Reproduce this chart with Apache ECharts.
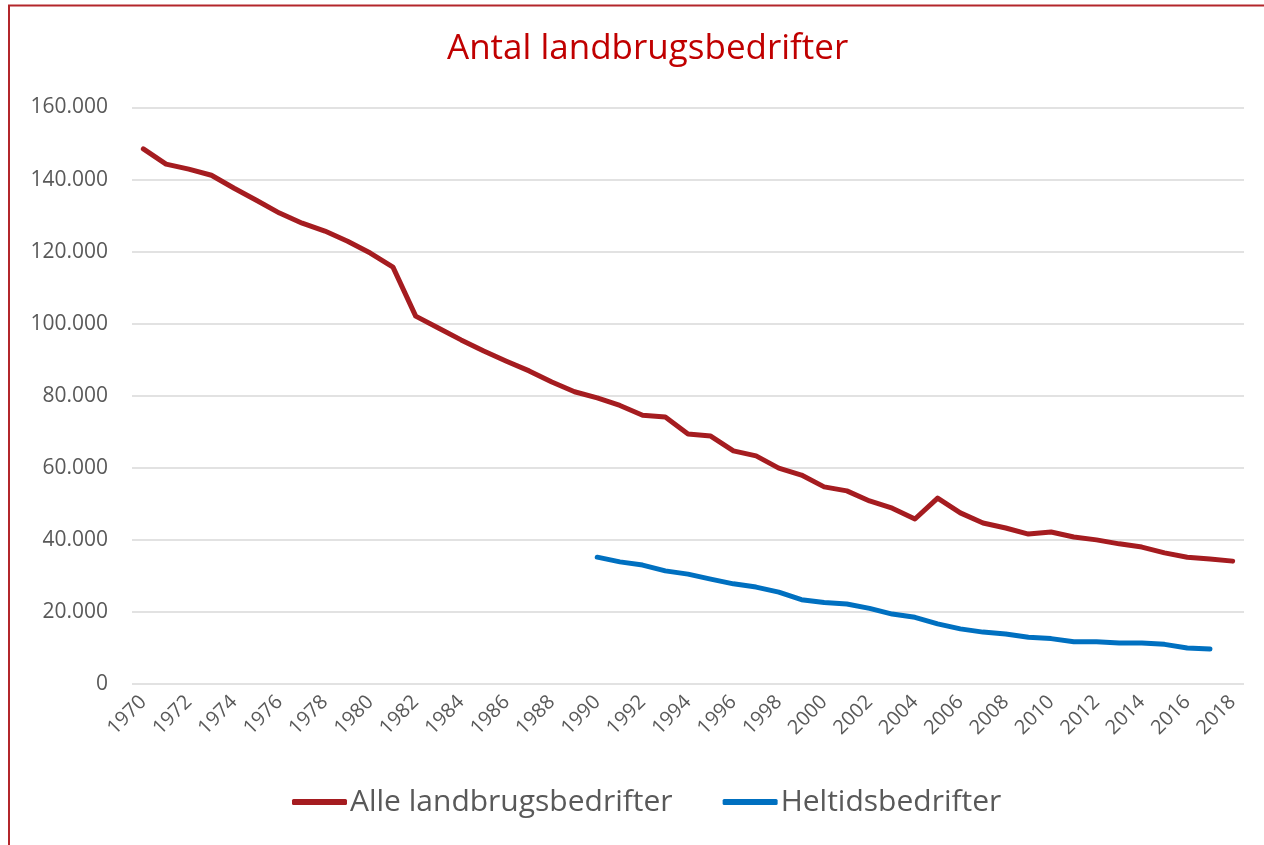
<!DOCTYPE html>
<html>
<head>
<meta charset="utf-8">
<script src="https://cdn.jsdelivr.net/npm/echarts@6/dist/echarts.min.js"></script>
<style>
  html, body { margin: 0; padding: 0; background: #fff; }
  #chart { width: 1264px; height: 845px; }
</style>
</head>
<body>
<div id="chart"></div>
<script>
// aar 1970 - 2018
const years = [];
for (let y = 1970; y <= 2018; y++) years.push(String(y));

const alleBedrifter = [
  148500, 144300, 142900, 141200, 137600, 134200, 130700, 127900, 125700, 122900,
  119600, 115700, 102100, 98800, 95500, 92400, 89600, 86900, 83800, 81100,
  79400, 77300, 74600, 74100, 69400, 68800, 64700, 63300, 59900, 58000,
  54700, 53600, 50800, 48800, 45800, 51600, 47500, 44700, 43300, 41600,
  42200, 40800, 40000, 38900, 38000, 36400, 35200, 34700, 34100
];

const heltidsBedrifter = [
  null, null, null, null, null, null, null, null, null, null,
  null, null, null, null, null, null, null, null, null, null,
  35200, 33900, 33000, 31400, 30500, 29100, 27800, 26900, 25500, 23400,
  22600, 22200, 21000, 19400, 18500, 16700, 15300, 14400, 13900, 13000,
  12600, 11700, 11700, 11400, 11400, 11000, 10000, 9700, null
];

const seriesNames = ['Alle landbrugsbedrifter', 'Heltidsbedrifter'];

const FONT = '"Open Sans", "Noto Sans", sans-serif';

var myChart = echarts.init(document.getElementById('chart'));

myChart.setOption({
  animation: false,
  textStyle: { fontFamily: FONT },
  graphic: [
    {
      type: 'rect',
      shape: { x: 9, y: 5.5, width: 1300, height: 900 },
      style: { fill: 'none', stroke: '#b3262b', lineWidth: 2 }
    }
  ],
  title: {
    text: 'Antal landbrugsbedrifter',
    left: 442,
    top: 27,
    textStyle: {
      fontFamily: FONT,
      fontSize: 35,
      fontWeight: 'normal',
      color: '#c00000'
    }
  },
  legend: {
    left: 287,
    top: 782,
    itemWidth: 55,
    itemHeight: 6,
    itemGap: 50,
    icon: 'roundRect',
    textStyle: { fontFamily: FONT, fontSize: 30, color: '#595959', padding: [0, 0, 0, -2] },
    data: seriesNames
  },
  grid: {
    left: 132,
    right: 20,
    top: 107.5,
    bottom: 161
  },
  xAxis: {
    type: 'category',
    data: years,
    boundaryGap: true,
    axisLine: { show: false },
    axisTick: { show: false },
    axisLabel: {
      interval: 1,
      rotate: 45,
      margin: 15,
      fontSize: 20,
      color: '#595959',
      fontFamily: FONT
    }
  },
  yAxis: {
    type: 'value',
    min: 0,
    max: 160000,
    interval: 20000,
    axisLine: { show: false },
    axisTick: { show: false },
    splitLine: { lineStyle: { color: '#d9d9d9', width: 1.5 } },
    axisLabel: {
      margin: 24,
      fontSize: 21,
      color: '#595959',
      fontFamily: FONT,
      formatter: v => String(v).replace(/\B(?=(\d{3})+(?!\d))/g, '.')
    }
  },
  series: [
    {
      name: seriesNames[0],
      type: 'line',
      data: alleBedrifter,
      symbol: 'none',
      itemStyle: { color: '#a51c20' },
      lineStyle: { color: '#a51c20', width: 5, cap: 'round', join: 'round' }
    },
    {
      name: seriesNames[1],
      type: 'line',
      data: heltidsBedrifter,
      symbol: 'none',
      itemStyle: { color: '#0070c0' },
      lineStyle: { color: '#0070c0', width: 5, cap: 'round', join: 'round' }
    }
  ]
});
</script>
</body>
</html>
